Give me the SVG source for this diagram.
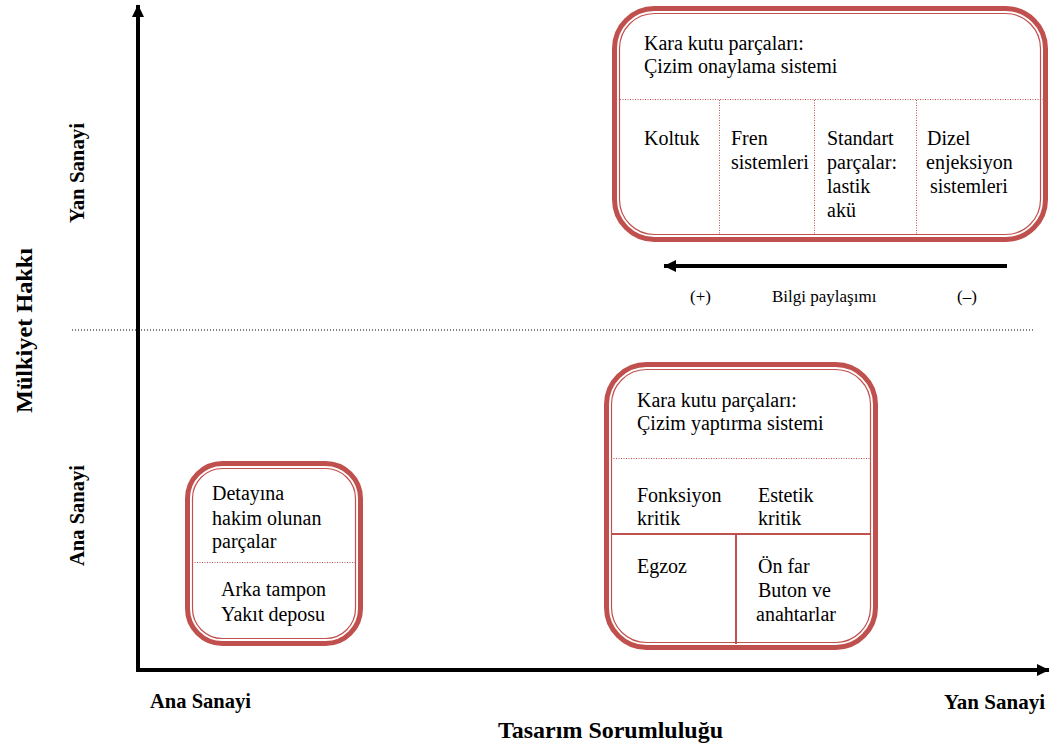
<svg xmlns="http://www.w3.org/2000/svg" width="1050" height="747" viewBox="0 0 1050 747">
<style>
.t{font-family:"Liberation Serif","Times New Roman",serif;font-size:20px;fill:#000}
.s{font-family:"Liberation Serif","Times New Roman",serif;font-size:17px;fill:#000}
.b{font-family:"Liberation Serif","Times New Roman",serif;font-weight:bold;fill:#000}
.outer{fill:#fff;stroke:#C0504D;stroke-width:5}
.inner{fill:none;stroke:#C0504D;stroke-width:1.2}
.rdot{stroke:#C0504D;stroke-width:1;stroke-dasharray:1 1.5;fill:none}
.rsol{stroke:#C0504D;stroke-width:2;fill:none}
.axis{stroke:#000;stroke-width:4;fill:none}
</style>
<defs>
<marker id="ah" markerWidth="4" markerHeight="4" refX="3" refY="2" orient="auto" markerUnits="strokeWidth">
<path d="M0,0.5 L3.1,2 L0,3.5 Z" fill="#000"/>
</marker>
</defs>
<rect width="1050" height="747" fill="#fff"/>
<g id="connectors">
<line class="axis" x1="138" y1="672" x2="138" y2="5" marker-end="url(#ah)"/>
<line class="axis" x1="136" y1="670" x2="1049" y2="670" marker-end="url(#ah)"/>
<line x1="72" y1="330" x2="1035" y2="330" stroke="#000" stroke-width="1" stroke-dasharray="1 2"/>
<line class="axis" x1="1007" y1="266" x2="664" y2="266" marker-end="url(#ah)"/>
</g>
<g id="axis-labels">
<text class="b" font-size="21" x="150" y="708" textLength="101" lengthAdjust="spacingAndGlyphs">Ana Sanayi</text>
<text class="b" font-size="21" x="944" y="709" textLength="101" lengthAdjust="spacingAndGlyphs">Yan Sanayi</text>
<text class="b" font-size="24" x="498" y="738" textLength="225" lengthAdjust="spacingAndGlyphs">Tasarım Sorumluluğu</text>
<text class="b" font-size="24" transform="translate(32,413) rotate(-90)" textLength="165" lengthAdjust="spacingAndGlyphs">Mülkiyet Hakkı</text>
<text class="b" font-size="21" transform="translate(84,223) rotate(-90)" textLength="100" lengthAdjust="spacingAndGlyphs">Yan Sanayi</text>
<text class="b" font-size="21" transform="translate(84,566) rotate(-90)" textLength="101" lengthAdjust="spacingAndGlyphs">Ana Sanayi</text>
<text class="s" x="690" y="302">(+)</text>
<text class="s" x="772" y="302">Bilgi paylaşımı</text>
<text class="s" x="957" y="302">(–)</text>
</g>
<g id="box-yan">
<rect class="outer" x="614.5" y="8.5" width="431" height="231" rx="40"/>
<rect class="inner" x="619.5" y="13.5" width="421" height="221" rx="35"/>
<line class="rdot" x1="620" y1="99.5" x2="1045" y2="99.5"/>
<line class="rdot" x1="719.5" y1="100" x2="719.5" y2="234"/>
<line class="rdot" x1="814.5" y1="100" x2="814.5" y2="234"/>
<line class="rdot" x1="916.5" y1="100" x2="916.5" y2="234"/>
<text class="t" x="644" y="50">Kara kutu parçaları:</text>
<text class="t" x="644" y="73">Çizim onaylama sistemi</text>
<text class="t" x="644" y="145">Koltuk</text>
<text class="t" x="731" y="145">Fren</text>
<text class="t" x="731" y="169">sistemleri</text>
<text class="t" x="827" y="145">Standart</text>
<text class="t" x="827" y="169">parçalar:</text>
<text class="t" x="827" y="193">lastik</text>
<text class="t" x="827" y="217">akü</text>
<text class="t" x="927" y="145">Dizel</text>
<text class="t" x="926" y="169">enjeksiyon</text>
<text class="t" x="930" y="193">sistemleri</text>
</g>
<g id="box-ana-yan">
<rect class="outer" x="606.5" y="364.5" width="269" height="283" rx="40"/>
<rect class="inner" x="611.5" y="369.5" width="259" height="273" rx="35"/>
<line class="rdot" x1="611" y1="458.5" x2="871" y2="458.5"/>
<line class="rsol" x1="611" y1="534" x2="871" y2="534"/>
<line class="rsol" x1="736" y1="534" x2="736" y2="644"/>
<text class="t" x="637" y="407">Kara kutu parçaları:</text>
<text class="t" x="637" y="430">Çizim yaptırma sistemi</text>
<text class="t" x="637" y="502">Fonksiyon</text>
<text class="t" x="637" y="525">kritik</text>
<text class="t" x="758" y="502">Estetik</text>
<text class="t" x="758" y="525">kritik</text>
<text class="t" x="637" y="573">Egzoz</text>
<text class="t" x="758" y="573">Ön far</text>
<text class="t" x="758" y="597">Buton ve</text>
<text class="t" x="756" y="621">anahtarlar</text>
</g>
<g id="box-ana">
<rect class="outer" x="187.5" y="463.5" width="173" height="180" rx="35"/>
<rect class="inner" x="192.5" y="468.5" width="163" height="170" rx="30"/>
<line class="rdot" x1="192" y1="562.5" x2="356" y2="562.5"/>
<text class="t" x="212" y="500">Detayına</text>
<text class="t" x="212" y="525">hakim olunan</text>
<text class="t" x="212" y="548">parçalar</text>
<text class="t" x="221" y="596">Arka tampon</text>
<text class="t" x="221" y="621">Yakıt deposu</text>
</g>
</svg>
